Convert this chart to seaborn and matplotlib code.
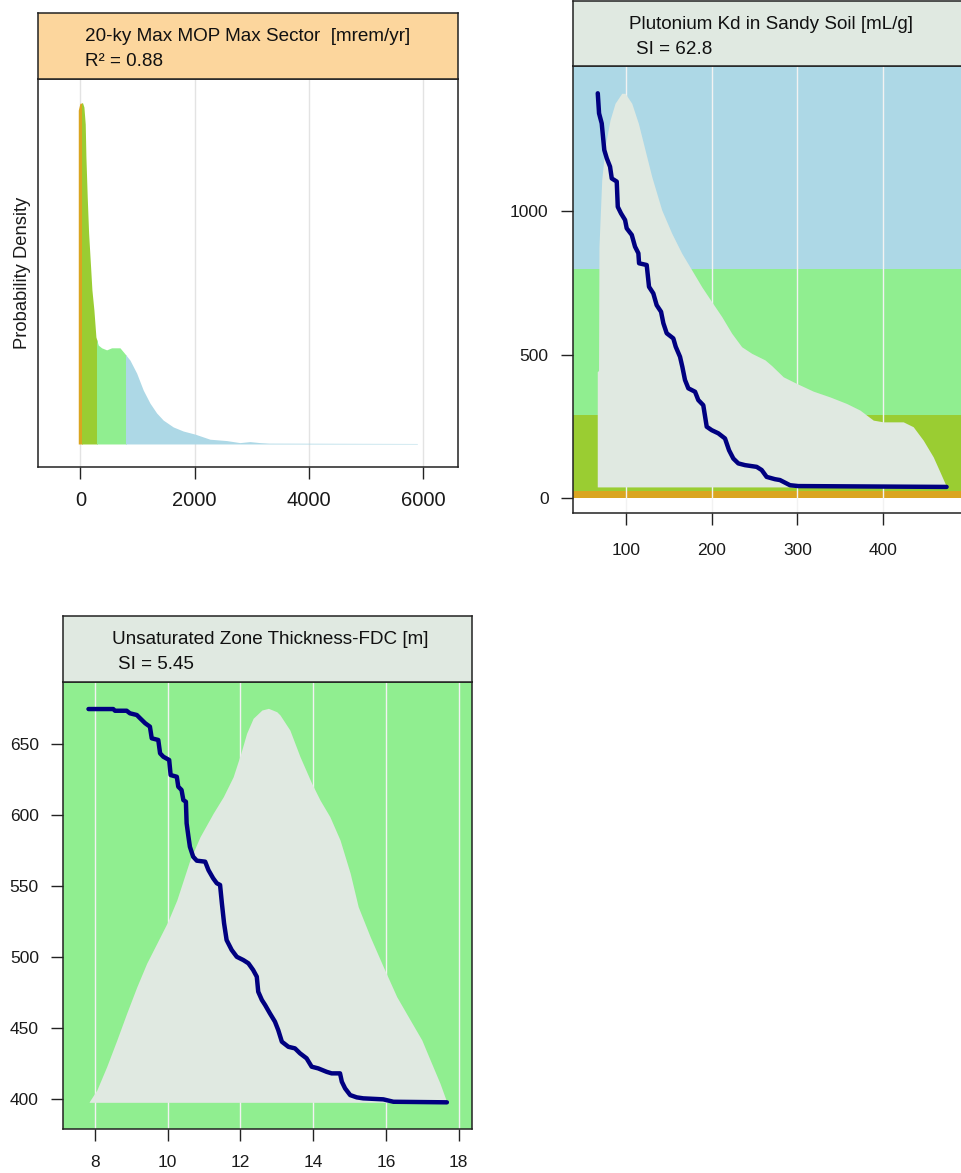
import numpy as np
import matplotlib
matplotlib.use("Agg")
import matplotlib.pyplot as plt
import seaborn as sns
from matplotlib.patches import Rectangle

sns.set_style("white")
plt.rcParams["font.family"] = ["Liberation Sans", "DejaVu Sans"]

# dose bands [mrem/yr] shared by all panels
band_lo = [0, 25, 290, 800]
band_hi = [25, 290, 800, 10000]
band_colors = ["#DAA520", "#9ACD32", "#90EE90", "#ADD8E6"]
den_color = "#E0E9E1"
line_color = "#000080"

# panel 1: density of 20-ky max MOP dose (relative height)
dose_x = [-38, -9, 38, 61, 84, 96, 119, 143, 178, 201, 236, 271, 312, 371, 459,
          546, 692, 767, 867, 984, 1100, 1217, 1334, 1450, 1625, 1800, 2005,
          2268, 2560, 2793, 2968, 3143, 3300, 4500, 5900]
dose_den = [0.979, 0.999, 1.0, 0.988, 0.938, 0.842, 0.724, 0.619, 0.519, 0.452,
            0.393, 0.314, 0.290, 0.282, 0.276, 0.282, 0.282, 0.267, 0.246, 0.208,
            0.158, 0.120, 0.091, 0.070, 0.050, 0.038, 0.029, 0.014, 0.010, 0.004,
            0.007, 0.004, 0.0025, 0.002, 0.0015]

# panel 2: Plutonium Kd
kd_x = [67.4, 68.9, 72.0, 75.0, 77.9, 81.7, 83.7, 89.5, 90.7, 94.5, 99.2, 101.1,
        107.0, 110.8, 114.7, 115.5, 124.4, 127.1, 132.1, 136.0, 141.1, 143.8,
        147.7, 155.4, 158.2, 163.2, 165.9, 169.0, 172.9, 180.7, 184.5, 190.3,
        194.3, 200.1, 207.8, 215.6, 220.3, 225.3, 231.1, 238.9, 252.5, 258.3,
        264.1, 273.8, 279.6, 287.4, 291.3, 300.9, 473.7]
kd_dose = [1412, 1342, 1307, 1214, 1185, 1156, 1115, 1104, 1016, 993, 970, 941,
           918, 877, 854, 819, 813, 737, 714, 673, 650, 610, 575, 557, 528, 493,
           458, 412, 383, 371, 342, 324, 249, 237, 226, 208, 167, 138, 121, 115,
           109, 98, 74, 66, 63, 51, 45, 42, 39]
kd_den_x = [66.8, 68.3, 68.8, 72.0, 75.9, 81.7, 87.5, 95.3, 99.2, 107.0, 114.7,
            122.5, 130.3, 141.9, 153.5, 165.2, 176.8, 188.5, 200.1, 211.8, 223.4,
            235.0, 246.7, 262.2, 270.0, 283.5, 299.0, 318.4, 337.8, 357.3, 372.8,
            388.3, 399.9, 423.2, 434.8, 446.5, 458.1, 465.9, 473.7]
kd_den = [441, 445, 877, 1110, 1226, 1319, 1377, 1412, 1412, 1377, 1307, 1214,
          1121, 1005, 924, 854, 796, 737, 685, 633, 575, 528, 505, 482, 462, 423,
          400, 373, 353, 330, 307, 272, 266, 266, 249, 202, 144, 92, 39]

# panel 3: Unsaturated zone thickness
uz_x = [7.82, 8.50, 8.55, 8.87, 8.96, 9.15, 9.24, 9.38, 9.51, 9.56, 9.74, 9.79,
        9.88, 10.04, 10.08, 10.25, 10.29, 10.38, 10.43, 10.50, 10.52, 10.57,
        10.61, 10.70, 10.80, 11.03, 11.12, 11.25, 11.35, 11.44, 11.49, 11.55,
        11.62, 11.76, 11.90, 12.08, 12.22, 12.35, 12.45, 12.49, 12.59, 12.68,
        12.81, 12.95, 13.04, 13.14, 13.32, 13.50, 13.64, 13.82, 13.96, 14.14,
        14.37, 14.51, 14.74, 14.79, 14.88, 15.02, 15.20, 15.38, 15.93, 16.21, 17.68]
uz_dose = [674.9, 674.9, 673.7, 673.7, 671.9, 670.7, 668.4, 664.9, 662.5, 654.3,
           653.1, 643.7, 641.3, 639.0, 628.4, 627.2, 620.2, 617.9, 610.8, 609.6,
           594.4, 585.0, 577.9, 570.9, 568.1, 567.4, 561.5, 555.7, 552.2, 551.0,
           538.1, 524.0, 512.2, 505.2, 500.4, 498.1, 495.8, 491.1, 486.4, 475.8,
           470.0, 466.4, 460.6, 454.7, 448.8, 440.6, 437.0, 435.9, 432.4, 428.9,
           423.0, 421.8, 419.4, 418.3, 418.3, 412.4, 407.7, 403.0, 401.4, 400.7,
           400.0, 398.3, 397.9]
uz_den_x = [7.84, 8.05, 8.32, 8.60, 8.87, 9.15, 9.42, 9.70, 10.00, 10.25, 10.43,
            10.61, 10.89, 11.25, 11.53, 11.80, 12.01, 12.17, 12.35, 12.59, 12.77,
            13.00, 13.09, 13.36, 13.64, 13.96, 14.19, 14.46, 14.74, 15.02, 15.24,
            15.57, 15.93, 16.30, 16.67, 16.99, 17.22, 17.49, 17.68]
uz_den = [398.3, 406.6, 423.0, 441.8, 460.6, 479.3, 495.8, 509.9, 525.1, 540.4,
          554.5, 568.6, 585.0, 601.5, 613.2, 627.2, 643.7, 657.8, 668.4, 674.2,
          675.4, 673.0, 670.7, 660.1, 641.3, 622.6, 610.8, 599.1, 582.7, 559.2,
          535.7, 514.5, 493.4, 472.3, 455.9, 441.8, 427.7, 411.3, 397.9]

fig = plt.figure(figsize=(9.61, 11.73), dpi=100)


def style_axes(ax, size):
    for s in ax.spines.values():
        s.set_visible(True)
        s.set_color("#222222")
        s.set_linewidth(1.1)
    ax.tick_params(direction="out", length=8.6, width=1.0, color="#222222",
                   labelsize=size, labelcolor="#1a1a1a", pad=9,
                   bottom=True, left=True)


def header(rect, color, line1, line2, x1, x2):
    hd = fig.add_axes(rect)
    hd.set_facecolor(color)
    hd.set_xticks([])
    hd.set_yticks([])
    for s in hd.spines.values():
        s.set_visible(True)
        s.set_color("#222222")
        s.set_linewidth(1.1)
    hd.text(x1, 0.64, line1, transform=hd.transAxes, ha="left", va="center",
            fontsize=13.6, color="#111111")
    hd.text(x2, 0.26, line2, transform=hd.transAxes, ha="left", va="center",
            fontsize=13.6, color="#111111")


# ---- panel 1
ax1 = fig.add_axes([0.0395, 0.6019, 0.437, 0.3308])
style_axes(ax1, 14.5)
for g in [0, 2000, 4000, 6000]:
    ax1.axvline(g, color="#E3E3E3", lw=1, zorder=0)
for c, lo, hi in zip(band_colors, [-1000] + band_lo[1:], band_hi):
    poly = ax1.fill_between(dose_x, 0, dose_den, color=c, lw=0, zorder=1)
    poly.set_clip_path(Rectangle((lo, -1), hi - lo, 3, transform=ax1.transData))
ax1.set_xlim(-744, 6611)
ax1.set_ylim(-0.0674, 1.0704)
ax1.set_xticks([0, 2000, 4000, 6000])
ax1.set_yticks([])
ax1.tick_params(left=False)
ax1.set_ylabel("Probability Density", fontsize=13.2, labelpad=5, color="#1a1a1a")
header([0.0395, 0.9327, 0.437, 0.0563], "#FCD69D",
       "20-ky Max MOP Max Sector  [mrem/yr]", "R\u00b2 = 0.88", 0.112, 0.112)

# ---- panel 2
ax2 = fig.add_axes([0.5963, 0.5624, 0.4256, 0.3813])
style_axes(ax2, 12.5)
for c, lo, hi in zip(band_colors, band_lo, band_hi):
    ax2.axhspan(lo, hi, color=c, lw=0, zorder=0)
for g in [100, 200, 300, 400]:
    ax2.axvline(g, color="#F2F2F2", lw=1, zorder=0.5)
ax2.fill_between(kd_den_x, min(kd_dose), kd_den, color=den_color, lw=0, zorder=1)
sns.lineplot(x=kd_x, y=kd_dose, ax=ax2, color=line_color, linewidth=3.2,
             estimator=None, sort=False, zorder=2)
ax2.set_xlim(38.6, 515)
ax2.set_ylim(-53, 1507)
ax2.set_xticks([100, 200, 300, 400])
ax2.set_yticks([0, 500, 1000])
ax2.tick_params(axis="x", pad=13)
header([0.5963, 0.9437, 0.4256, 0.0554], den_color,
       "Plutonium Kd in Sandy Soil [mL/g]", "SI = 62.8", 0.137, 0.153)

# ---- panel 3
ax3 = fig.add_axes([0.0659, 0.03725, 0.4256, 0.3814])
style_axes(ax3, 12.5)
for c, lo, hi in zip(band_colors, band_lo, band_hi):
    ax3.axhspan(lo, hi, color=c, lw=0, zorder=0)
for g in range(8, 19, 2):
    ax3.axvline(g, color="#F2F2F2", lw=1, zorder=0.5)
ax3.fill_between(uz_den_x, min(uz_dose), uz_den, color=den_color, lw=0, zorder=1)
sns.lineplot(x=uz_x, y=uz_dose, ax=ax3, color=line_color, linewidth=3.2,
             estimator=None, sort=False, zorder=2)
ax3.set_xlim(7.128, 18.38)
ax3.set_ylim(378.9, 694)
ax3.set_xticks(range(8, 19, 2))
ax3.set_yticks(range(400, 651, 50))
ax3.tick_params(axis="x", pad=10)
header([0.0659, 0.4187, 0.4256, 0.0558], den_color,
       "Unsaturated Zone Thickness-FDC [m]", "SI = 5.45", 0.119, 0.134)

fig.savefig("out.png", dpi=100)
